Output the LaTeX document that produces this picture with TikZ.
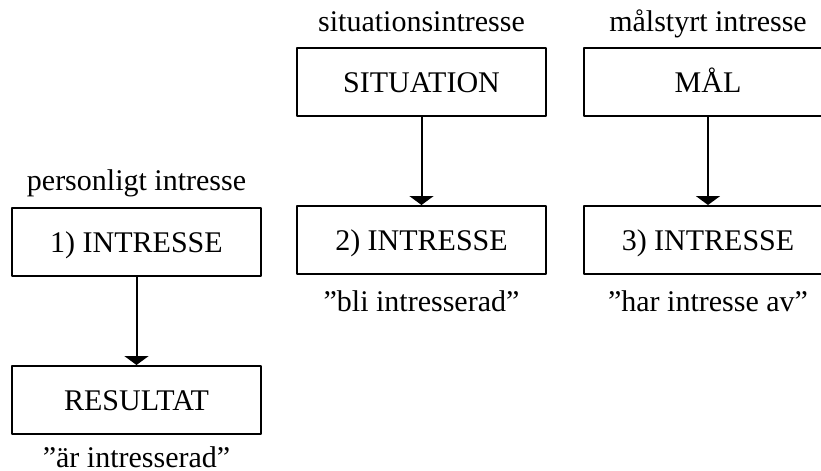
\documentclass[tikz,border=0pt]{standalone}
\usepackage{fontspec}
\setmainfont{Liberation Serif}
\usetikzlibrary{arrows.meta,positioning}
\begin{document}
\begin{tikzpicture}[x=0.5pt,y=-0.5pt, font=\fontsize{15}{18}\selectfont, line join=round,
  box/.style={draw, line width=1pt, minimum width=124.5pt, minimum height=34pt, inner sep=0pt,
    text height=10pt, text depth=0pt},
  lbl/.style={inner sep=0pt, anchor=base},
  >={Triangle[width=12pt,length=4.5pt]}]
 \useasboundingbox (0,0) rectangle (821,471);
 % boxes
 \node[box] (int1) at (136.5,242) {1) INTRESSE};
 \node[box] (res) at (136.5,400) {RESULTAT};
 \node[box] (sit) at (421.5,82) {SITUATION};
 \node[box] (int2) at (421.5,240) {2) INTRESSE};
 \node[box] (mal) at (708,82) {MÅL};
 \node[box] (int3) at (708,240) {3) INTRESSE};
 % labels
 \node[lbl] (lpers) at ([yshift=8pt]int1.north) {personligt intresse};
 \node[lbl] (lsit) at ([yshift=7.5pt]sit.north) {situationsintresse};
 \node[lbl] (lmal) at ([yshift=7.5pt]mal.north) {målstyrt intresse};
 \node[lbl] (lres) at ([yshift=-16pt]res.south) {”är intresserad”};
 \node[lbl] (lint2) at ([yshift=-18pt]int2.south) {”bli intresserad”};
 \node[lbl] (lint3) at ([yshift=-18pt]int3.south) {”har intresse av”};
 % arrows
 \draw[->, line width=1pt] (int1) -- (res);
 \draw[->, line width=1pt] (sit) -- (int2);
 \draw[->, line width=1pt] (mal) -- (int3);
\end{tikzpicture}
\end{document}
